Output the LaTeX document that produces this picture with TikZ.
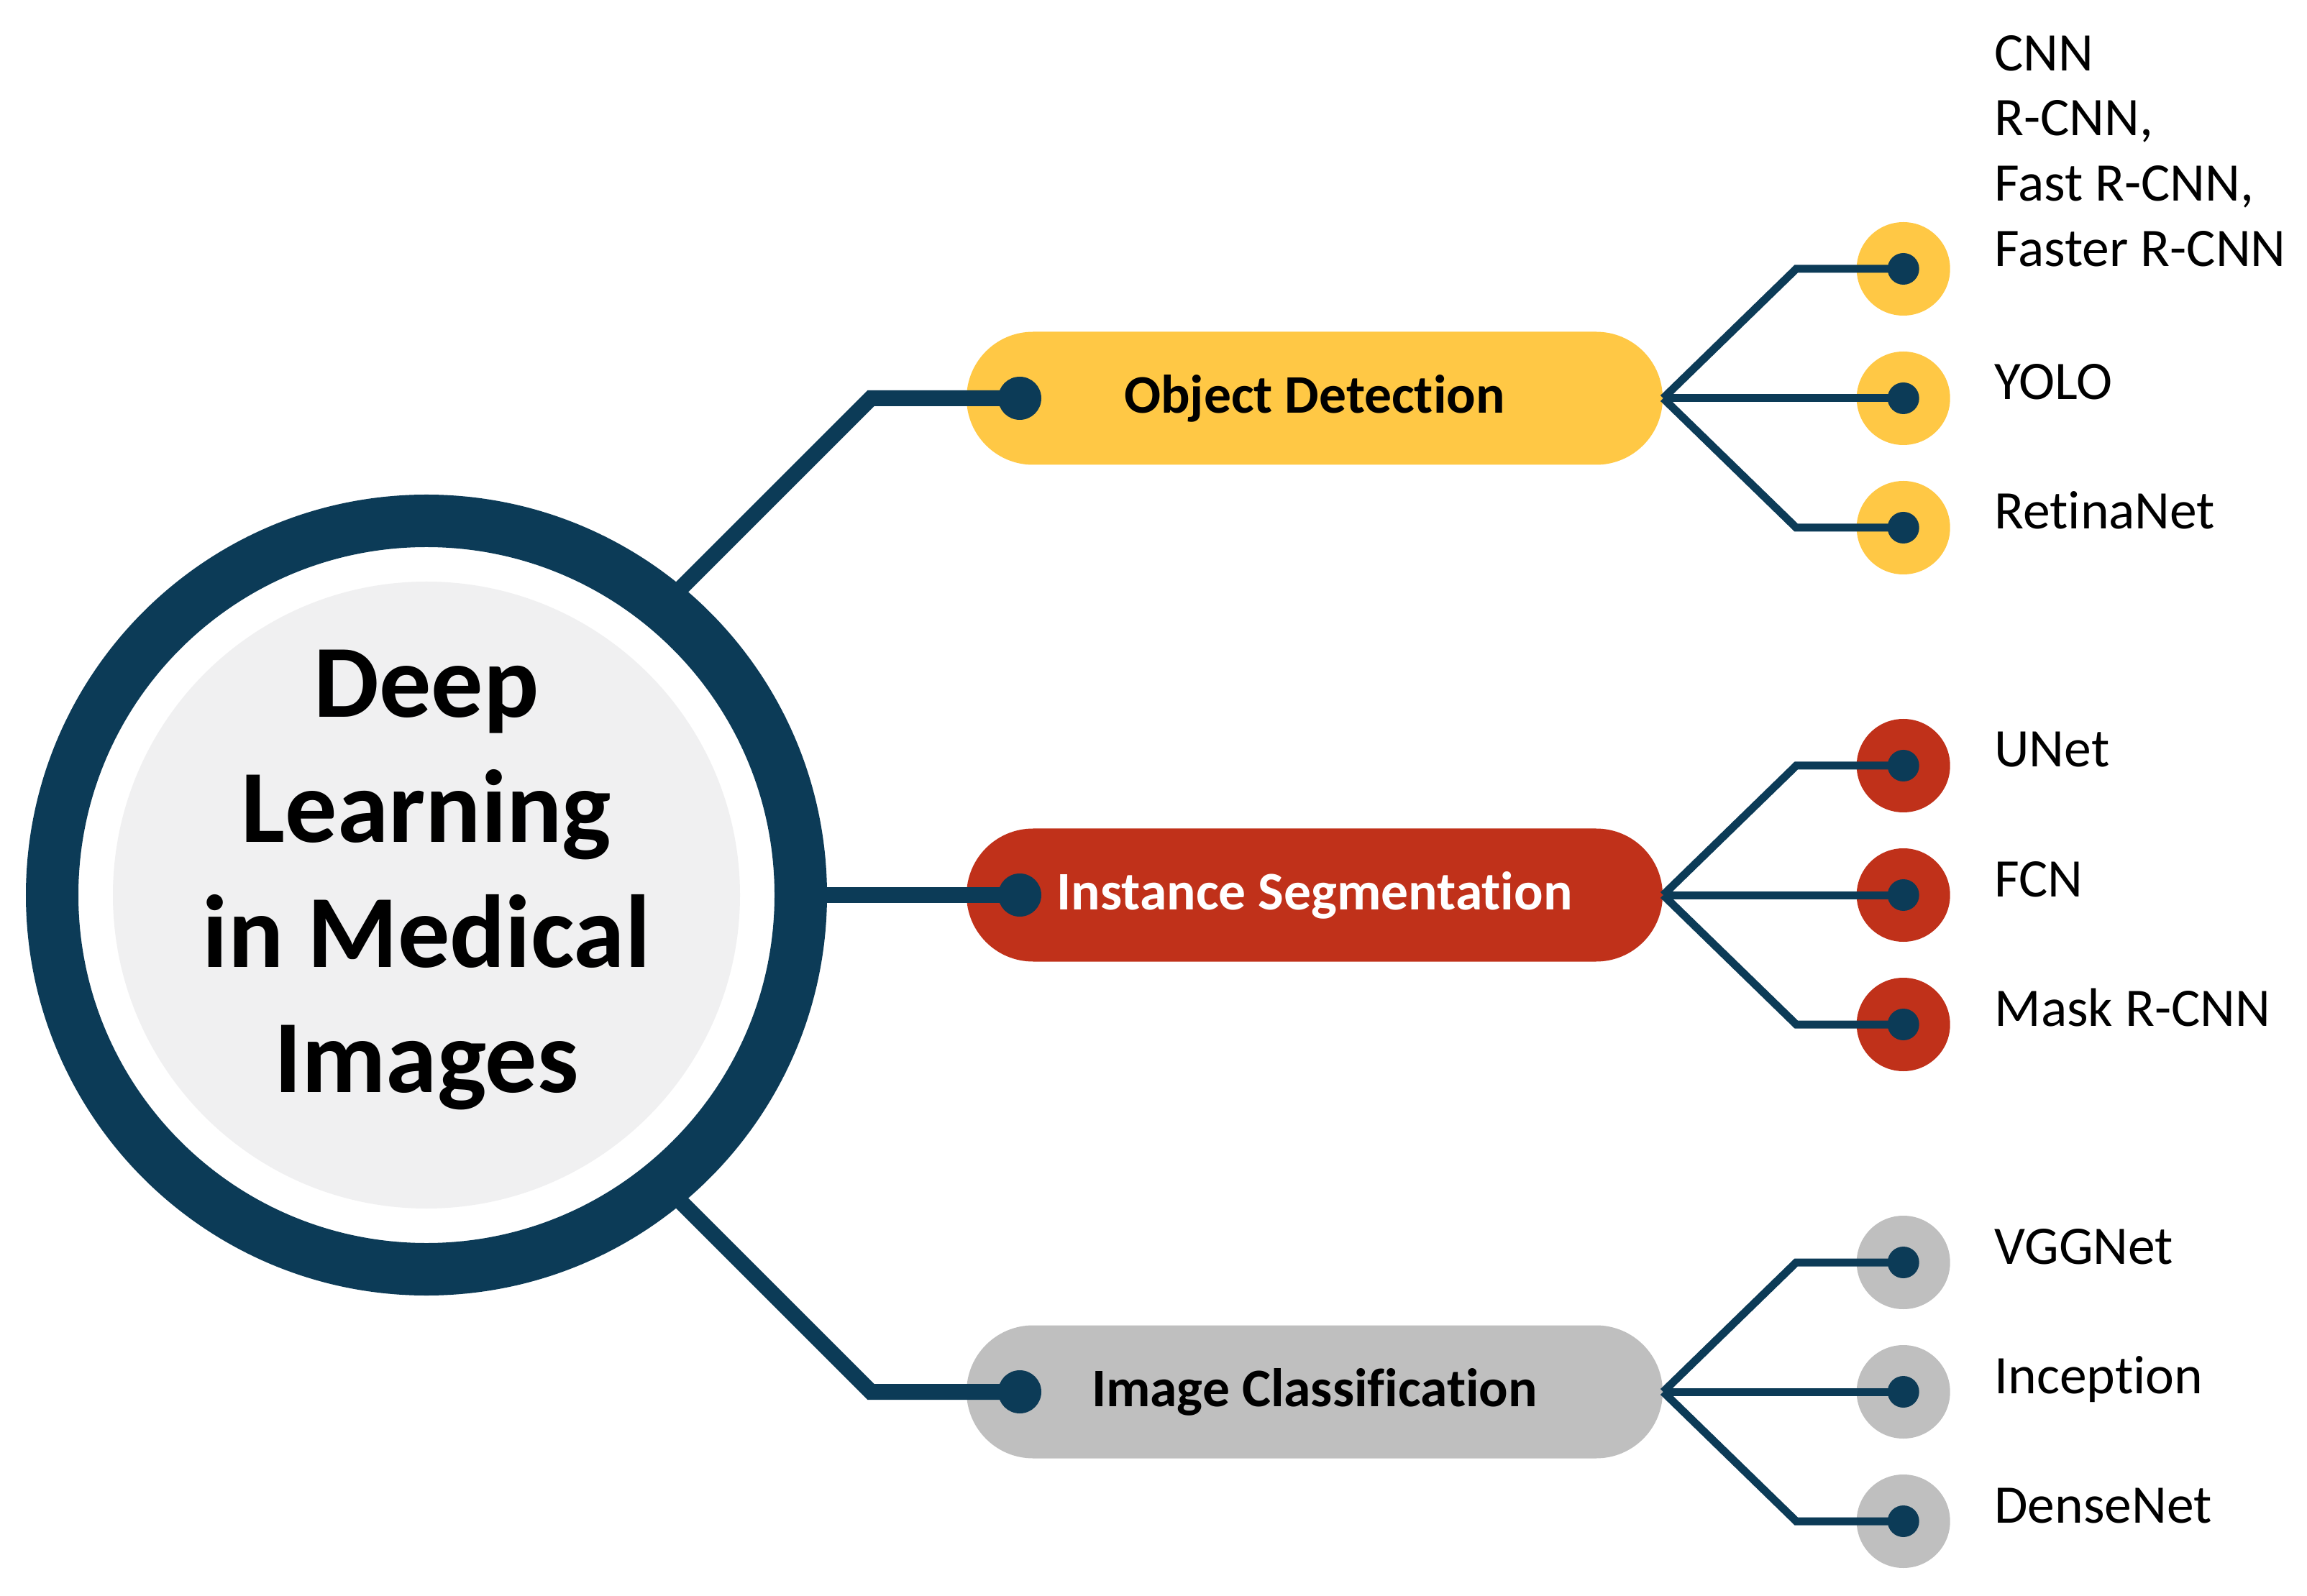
\documentclass[tikz,border=0pt]{standalone}
\usepackage{fontspec}
\setmainfont{Carlito}[Ligatures=NoCommon]
\usetikzlibrary{calc}
\definecolor{navy}{HTML}{0C3B57}
\definecolor{odyellow}{HTML}{FFC845}
\definecolor{isred}{HTML}{C0311A}
\definecolor{icgray}{HTML}{BFBFBF}
\definecolor{disk}{HTML}{F0F0F1}
\tikzset{
trunk/.style={draw=navy, line width=0.22cm},
twig/.style={draw=navy, line width=0.11cm},
pill/.style={rectangle, rounded corners=0.925cm, minimum width=9.68cm, minimum height=1.85cm, font=\bfseries\fontsize{21.5}{26}\selectfont},
leaftext/.style={inner sep=0pt, font=\fontsize{21.5}{25.8}\selectfont, align=left},
hub/.style={inner sep=0pt, align=center, font=\bfseries\fontsize{41}{49.5}\selectfont}
}
\def\drawFan{
\coordinate (B0) at (0,0);
\coordinate (B1) at (1.85,1.80);
\coordinate (B3) at (1.85,-1.80);
\coordinate (L1) at (3.34,1.80);
\coordinate (L2) at (3.34,0);
\coordinate (L3) at (3.34,-1.80);
\fill[color=\fancolor] (L1) circle (0.65);
\fill[color=\fancolor] (L2) circle (0.65);
\fill[color=\fancolor] (L3) circle (0.65);
\draw[twig] (B0) -- (B1) -- (L1);
\draw[twig] (B0) -- (L2);
\draw[twig] (B0) -- (B3) -- (L3);
\fill[color=navy] (L1) circle (0.22);
\fill[color=navy] (L2) circle (0.22);
\fill[color=navy] (L3) circle (0.22);
}

\begin{document}
\begin{tikzpicture}
\useasboundingbox (0,0) rectangle (32.08,22.19);
\coordinate (C) at (5.93,9.74);
% the three pills
\node[pill, fill=odyellow] (od) at (18.28,16.65) {Object Detection};
\node[pill, fill=isred, text=white] (is) at (18.28,9.74) {Instance Segmentation};
\node[pill, fill=icgray] (ic) at (18.28,2.83) {Image Classification};
\coordinate (D1) at (14.18,16.65);
\coordinate (D2) at (14.18,9.74);
\coordinate (D3) at (14.18,2.83);
\coordinate (K1) at (12.11,16.65);
\coordinate (K3) at (12.11,2.83);
\coordinate (E1) at (8.11,12.65);
\coordinate (E3) at (8.11,6.83);
\draw[trunk] (D1) -- (K1) -- (E1);
\draw[trunk] (D2) -- (C);
\draw[trunk] (D3) -- (K3) -- (E3);
% hub
\draw[color=navy, line width=0.73cm, fill=white] (C) circle (5.205);
\fill[color=disk] (C) circle (4.36);
\node[hub, yshift=0.21cm] (hub) at (C) {Deep\\Learning\\in Medical\\Images};
\fill[color=navy] (D1) circle (0.30);
\fill[color=navy] (D2) circle (0.30);
\fill[color=navy] (D3) circle (0.30);
% fans
\begin{scope}[shift={(od.east)}]
\def\fancolor{odyellow}
\drawFan
\node[leaftext, anchor=west] (rcnn) at ([xshift=1.26cm,yshift=1.64cm]L1) {CNN\\R-CNN,\\Fast R-CNN,\\Faster R-CNN};
\node[leaftext, anchor=base west] (yolo) at ([xshift=1.26cm,yshift=-0.02cm]L2) {YOLO};
\node[leaftext, anchor=base west] (retina) at ([xshift=1.26cm,yshift=-0.02cm]L3) {RetinaNet};
\end{scope}
\begin{scope}[shift={(is.east)}]
\def\fancolor{isred}
\drawFan
\node[leaftext, anchor=base west] (unet) at ([xshift=1.26cm,yshift=-0.02cm]L1) {UNet};
\node[leaftext, anchor=base west] (fcn) at ([xshift=1.26cm,yshift=-0.02cm]L2) {FCN};
\node[leaftext, anchor=base west] (mask) at ([xshift=1.26cm,yshift=-0.02cm]L3) {Mask R-CNN};
\end{scope}
\begin{scope}[shift={(ic.east)}]
\def\fancolor{icgray}
\drawFan
\node[leaftext, anchor=base west] (vgg) at ([xshift=1.26cm,yshift=-0.02cm]L1) {VGGNet};
\node[leaftext, anchor=base west] (incep) at ([xshift=1.26cm,yshift=-0.02cm]L2) {Inception};
\node[leaftext, anchor=base west] (dense) at ([xshift=1.26cm,yshift=-0.02cm]L3) {DenseNet};
\end{scope}
\end{tikzpicture}
\end{document}
